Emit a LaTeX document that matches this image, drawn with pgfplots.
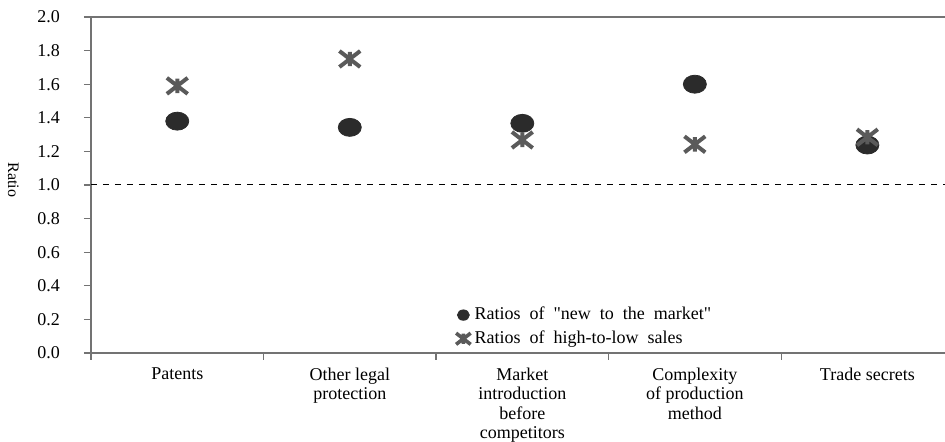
\documentclass[border=0pt]{standalone}
\usepackage{fontspec}
\setmainfont{Liberation Serif}
\newfontfamily\qfont{Liberation Serif}[Ligatures=TeXOff]
\usepackage{pgfplots}
\pgfplotsset{compat=1.18}
\definecolor{dotc}{HTML}{2B2B2B}
\definecolor{starc}{HTML}{5A5A5A}
\pgfdeclareplotmark{xstar}{%
  \pgfpathmoveto{\pgfqpoint{-1.3\pgfplotmarksize}{-1.0\pgfplotmarksize}}%
  \pgfpathlineto{\pgfqpoint{1.3\pgfplotmarksize}{1.0\pgfplotmarksize}}%
  \pgfpathmoveto{\pgfqpoint{-1.3\pgfplotmarksize}{1.0\pgfplotmarksize}}%
  \pgfpathlineto{\pgfqpoint{1.3\pgfplotmarksize}{-1.0\pgfplotmarksize}}%
  \pgfpathmoveto{\pgfqpoint{0pt}{-0.9\pgfplotmarksize}}%
  \pgfpathlineto{\pgfqpoint{0pt}{0.9\pgfplotmarksize}}%
  \pgfusepathqstroke}
\begin{document}
\begin{tikzpicture}
\begin{axis}[
  scale only axis, width=427pt, height=168pt,
  xmin=-0.5, xmax=4.45, ymin=0, ymax=2,
  axis x line=box, axis y line=left,
  axis line style={-, draw=black!55, line width=0.6pt},
  font=\fontsize{9}{9.7}\selectfont,
  /pgf/number format/assume math mode=true,
  ytick={0,0.2,...,2.01},
  yticklabel style={/pgf/number format/fixed, /pgf/number format/fixed zerofill, /pgf/number format/precision=1, xshift=-8.5pt},
  tick align=outside,
  major tick length=3.5pt,
  y tick style={draw=black!55, line width=0.6pt},
  xtick={0,1,2,3,4},
  xtick pos=bottom,
  x tick style={draw=none},
  xticklabels={Patents,{Other legal\\protection},{Market\\introduction\\before\\competitors},{Complexity\\of production\\method},Trade secrets},
  xticklabel style={align=center, yshift=-0.5pt},
  extra x ticks={-0.5,0.5,1.5,2.5,3.5},
  extra x tick labels={},
  extra x tick style={x tick style={draw=black!55, line width=0.6pt}},
  ylabel={Ratio},
  ylabel style={at={(axis description cs:-0.091,0.515)}, rotate=180, anchor=center, font=\fontsize{8}{9}\selectfont},
  clip=false,
  legend style={at={(axis description cs:0.4247,0.0)}, anchor=south west, draw=none, fill=none, font=\fontsize{9}{10}\selectfont, row sep=0pt, inner sep=1pt},
  legend cell align=left,
]
\addplot[only marks, mark=*, mark size=4.5pt, color=dotc, mark options={xscale=1.28, fill=dotc, draw=dotc}, legend image post style={mark size=2.6pt, mark options={xscale=1.15}}] coordinates {
  (0,1.38) (1,1.343) (2,1.367) (3,1.60) (4,1.238)};
\addlegendentry{Ratios\ \ of \ {\qfont"}new \ to \ the \ market{\qfont"}}
\addplot[only marks, mark=xstar, mark size=4pt, color=starc, mark options={line width=2pt}, legend image post style={mark size=2.8pt, mark options={line width=1.8pt}}] coordinates {
  (0,1.59) (1,1.75) (2,1.268) (3,1.242) (4,1.284)};
\addlegendentry{Ratios \ of \ high-to-low \ sales}
\addplot[forget plot, dashed, black, line width=0.5pt] coordinates {(-0.5,1) (4.45,1)};
\end{axis}
\pgfresetboundingbox
\path (-45.5pt,-44.5pt) rectangle (427pt,176.5pt);
\end{tikzpicture}
\end{document}
